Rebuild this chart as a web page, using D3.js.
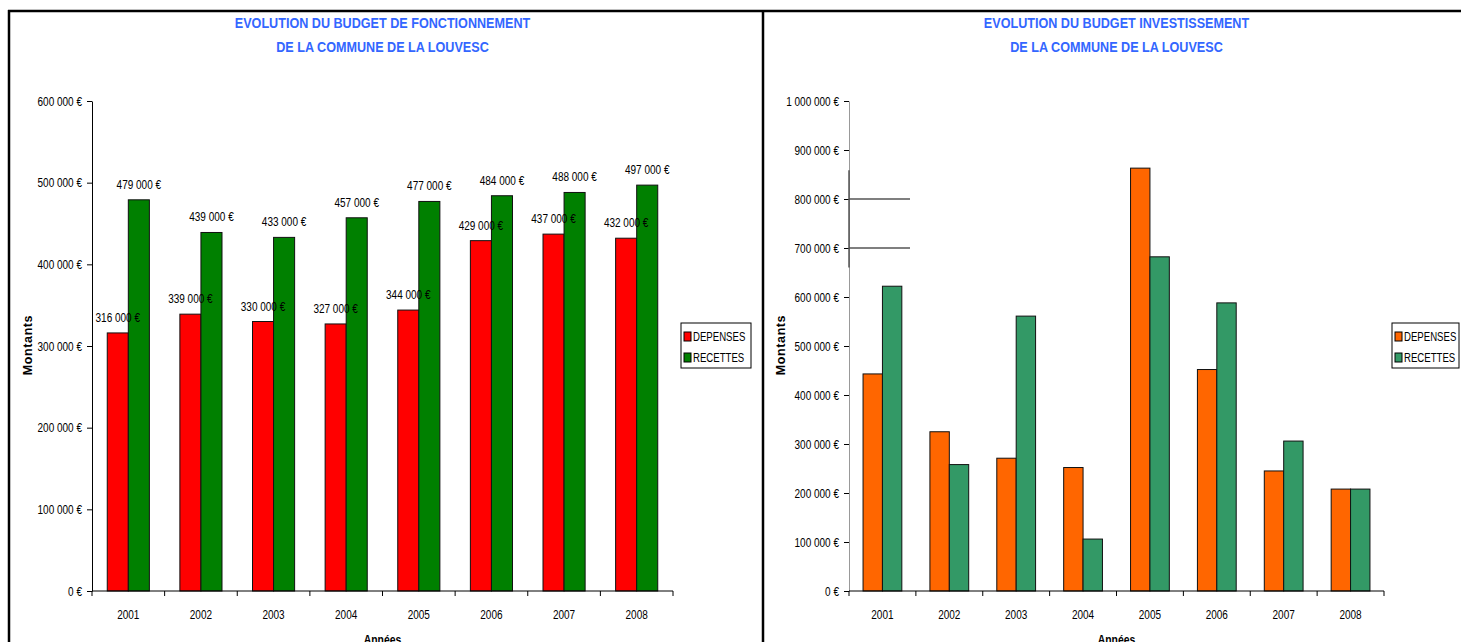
<!DOCTYPE html>
<html>
<head>
<meta charset="utf-8">
<script src="https://cdn.jsdelivr.net/npm/d3@7"></script>
<style>
  html, body { margin: 0; padding: 0; background: #fff; }
  svg { display: block; }
  text { font-family: "Liberation Sans Narrow", "Arial Narrow", "Liberation Sans", Arial, sans-serif; }
</style>
</head>
<body>
<svg id="chart" width="1461" height="642"></svg>
<script>
// ---------- DATA ----------
const years = ["2001", "2002", "2003", "2004", "2005", "2006", "2007", "2008"];
const seriesNames = ["DEPENSES", "RECETTES"];

const fonctDepenses = [316000, 339000, 330000, 327000, 344000, 429000, 437000, 432000];
const fonctRecettes = [479000, 439000, 433000, 457000, 477000, 484000, 488000, 497000];

const investDepenses = [443000, 325000, 271000, 252000, 863000, 452000, 245000, 208000];
const investRecettes = [622000, 258000, 561000, 106000, 682000, 588000, 306000, 208000];

const fonctTicks = [0, 100000, 200000, 300000, 400000, 500000, 600000];
const investTicks = [0, 100000, 200000, 300000, 400000, 500000, 600000, 700000, 800000, 900000, 1000000];
const investStubs = [700000, 800000];

const titleFonct = ["EVOLUTION DU BUDGET DE FONCTIONNEMENT", "DE LA COMMUNE DE LA LOUVESC"];
const titleInvest = ["EVOLUTION DU BUDGET INVESTISSEMENT", "DE LA COMMUNE DE LA LOUVESC"];
const yTitle = "Montants";
const xTitle = "Années";

// ---------- HELPERS ----------
const svg = d3.select("#chart");
const fmt = v => d3.format(",")(v).replace(/,/g, " ") + " €";

// frame
svg.append("line").attr("x1", 8).attr("x2", 1461).attr("y1", 11).attr("y2", 11)
  .attr("stroke", "#000").attr("stroke-width", 2.5);
svg.append("line").attr("x1", 9).attr("x2", 9).attr("y1", 10).attr("y2", 642)
  .attr("stroke", "#000").attr("stroke-width", 2.5);
svg.append("line").attr("x1", 763).attr("x2", 763).attr("y1", 10).attr("y2", 642)
  .attr("stroke", "#000").attr("stroke-width", 2.5);

function drawChart(cfg) {
  const g = svg.append("g");
  const x = d3.scaleBand().domain(years).range([cfg.x0, cfg.x1]).paddingInner(0).paddingOuter(0);
  const y = d3.scaleLinear().domain([0, cfg.max]).range([591, 101]);
  const groupW = x.bandwidth() * 0.58;
  const x1 = d3.scaleBand().domain(seriesNames).range([0, groupW]);
  const vals = [cfg.dep, cfg.rec];
  const bx = (i, j) => x(years[i]) + (x.bandwidth() - groupW) / 2 + x1(seriesNames[j]);

  // titles
  cfg.title.forEach((t, i) => {
    g.append("text").attr("class", "nt")
      .attr("x", (cfg.x0 + cfg.x1) / 2).attr("y", 28 + i * 24)
      .attr("text-anchor", "middle")
      .attr("font-size", 15).attr("font-weight", "bold")
      .attr("fill", "#3366FF").text(t);
  });

  // y axis
  const yAxis = d3.axisLeft(y).tickValues(cfg.ticks).tickSize(5).tickSizeOuter(0).tickFormat(fmt);
  const ya = g.append("g").attr("transform", `translate(${cfg.x0},0)`).call(yAxis);
  ya.attr("font-family", null);
  ya.select(".domain").attr("stroke", cfg.axisColor);
  ya.selectAll(".tick line").attr("stroke", "#000");
  ya.selectAll(".tick text").attr("class", "n").attr("font-size", 12.5).attr("fill", "#000").attr("dx", -2);

  // stray stubs (as in reference)
  if (cfg.stubs) {
    g.selectAll(".stub").data(cfg.stubs).join("line")
      .attr("x1", cfg.x0).attr("x2", cfg.x0 + 61)
      .attr("y1", d => y(d)).attr("y2", d => y(d))
      .attr("stroke", "#000").attr("stroke-width", 1.2);
    g.append("line").attr("x1", cfg.x0).attr("x2", cfg.x0)
      .attr("y1", y(863000) + 2).attr("y2", y(660000))
      .attr("stroke", "#555").attr("stroke-width", 1.5);
  }

  // bars
  years.forEach((yr, i) => {
    seriesNames.forEach((s, j) => {
      const v = vals[j][i];
      g.append("rect")
        .attr("x", bx(i, j)).attr("y", y(v))
        .attr("width", x1.bandwidth()).attr("height", y(0) - y(v))
        .attr("fill", cfg.colors[j]).attr("stroke", "#111").attr("stroke-width", 1);
    });
  });
  // data labels (on top of all bars)
  if (cfg.labels) {
    years.forEach((yr, i) => {
      seriesNames.forEach((s, j) => {
        const v = vals[j][i];
        g.append("text").attr("class", "n")
          .attr("x", bx(i, j) + x1.bandwidth() / 2).attr("y", y(v) - 11)
          .attr("text-anchor", "middle").attr("font-size", 12.5).attr("fill", "#000")
          .text(fmt(v));
      });
    });
  }

  // x axis
  g.append("line").attr("x1", cfg.x0).attr("x2", cfg.x1).attr("y1", y(0)).attr("y2", y(0))
    .attr("stroke", "#000");
  const bounds = years.map(yr => x(yr)).concat([cfg.x1]);
  g.selectAll(".xt").data(bounds).join("line")
    .attr("x1", d => d).attr("x2", d => d).attr("y1", y(0)).attr("y2", y(0) + 5)
    .attr("stroke", "#000");
  g.selectAll(".xl").data(years).join("text").attr("class", "n")
    .attr("x", d => x(d) + x.bandwidth() / 2).attr("y", 619)
    .attr("text-anchor", "middle").attr("font-size", 12.5).attr("fill", "#000")
    .text(d => d);

  // axis titles
  g.append("text")
    .attr("transform", `translate(${cfg.yTitleX},345) rotate(-90)`)
    .attr("text-anchor", "middle").attr("font-size", 12.5).attr("font-weight", "bold")
    .attr("letter-spacing", 0.6)
    .attr("font-family", "'Liberation Sans', Arial, sans-serif")
    .text(yTitle);
  g.append("text").attr("class", "n")
    .attr("x", (cfg.x0 + cfg.x1) / 2).attr("y", 644)
    .attr("text-anchor", "middle").attr("font-size", 13).attr("font-weight", "bold")
    .text(xTitle);

  // legend
  const lg = g.append("g").attr("transform", `translate(${cfg.legX},323)`);
  lg.append("rect").attr("x", 0).attr("y", 0).attr("width", cfg.legW).attr("height", 45)
    .attr("fill", "#fff").attr("stroke", "#000");
  seriesNames.forEach((s, j) => {
    lg.append("rect").attr("x", 3).attr("y", 9 + j * 21).attr("width", 7).attr("height", 9)
      .attr("fill", cfg.colors[j]).attr("stroke", "#000");
    lg.append("text").attr("class", "n").attr("x", 12).attr("y", 18 + j * 21)
      .attr("font-size", 12).attr("fill", "#000").text(s);
  });
}

drawChart({
  x0: 92, x1: 673, max: 600000, ticks: fonctTicks,
  dep: fonctDepenses, rec: fonctRecettes,
  colors: ["#FF0000", "#008000"], labels: true,
  title: titleFonct, axisColor: "#000",
  yTitleX: 32, legX: 681, legW: 70
});

drawChart({
  x0: 849, x1: 1384, max: 1000000, ticks: investTicks,
  dep: investDepenses, rec: investRecettes,
  colors: ["#FF6600", "#339966"], labels: false,
  title: titleInvest, axisColor: "#999", stubs: investStubs,
  yTitleX: 785, legX: 1392, legW: 67
});

// condense text to emulate a narrow face when none is installed
function condense(sel, f) {
  sel.each(function () {
    const len = this.getComputedTextLength();
    d3.select(this).attr("textLength", len * f).attr("lengthAdjust", "spacingAndGlyphs");
  });
}
const probe = svg.append("text").attr("font-size", 20).text("DEPENSES 000");
const probeW = probe.node().getComputedTextLength();
const probe2 = svg.append("text").attr("font-size", 20)
  .attr("font-family", "'Liberation Sans', Arial, sans-serif").text("DEPENSES 000");
const isNarrow = probeW < probe2.node().getComputedTextLength() * 0.95;
probe.remove(); probe2.remove();
if (!isNarrow) {
  condense(svg.selectAll("text.n"), 0.8);
  condense(svg.selectAll("text.nt"), 0.84);
}
</script>
</body>
</html>
